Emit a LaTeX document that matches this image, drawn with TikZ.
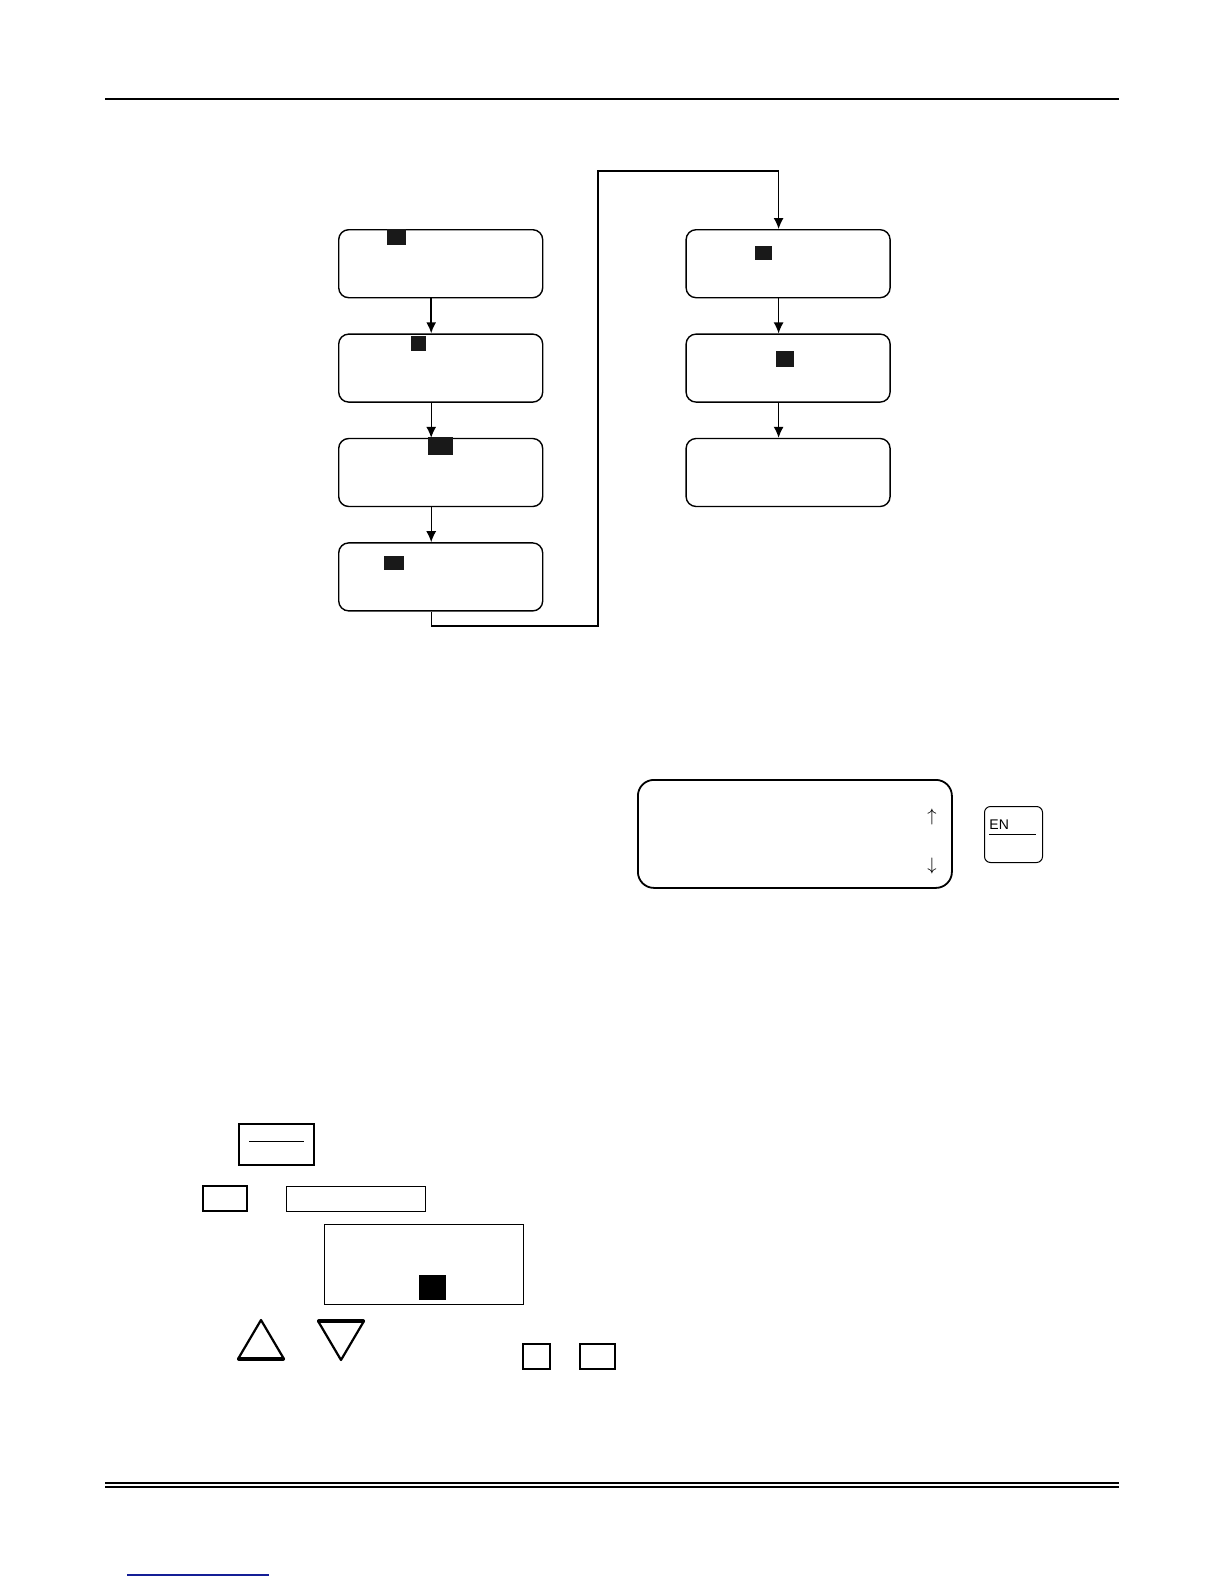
\documentclass[tikz,border=0pt]{standalone}
\usepackage{fontspec}
\setsansfont{Liberation Sans}
\usetikzlibrary{arrows.meta, positioning}

\definecolor{linkblue}{RGB}{20,30,150}

\begin{document}
\begin{tikzpicture}[x=0.5pt, y=-0.5pt, node distance=17.5pt and 71pt, every node/.style={font=\small},
    screen/.style={draw, rounded corners=5pt, line width=0.7pt, minimum width=102pt, minimum height=34pt, inner sep=0pt},
    cursor/.style={fill=black!90, inner sep=0pt},
    key/.style={draw, line width=0.6pt, inner sep=0pt, anchor=north west},
    arr/.style={line width=0.6pt, -{Latex[length=5.5pt, width=5pt]}}]
    \useasboundingbox (0,0) rectangle (1224,1584);
    % page rules
    \draw[line width=1pt] (105,99) -- (1119,99);
    \draw[line width=0.8pt] (105,1483) -- (1119,1483);
    \draw[line width=0.8pt] (105,1487) -- (1119,1487);
    \draw[linkblue, line width=0.6pt] (127,1575) -- (269,1575);

    % menu screens
    \node[screen, anchor=north west] (s1) at (338,229) {};
    \node[screen, below=of s1] (s2) {};
    \node[screen, below=of s2] (s3) {};
    \node[screen, below=of s3] (s4) {};
    \node[screen, right=of s1] (s5) {};
    \node[screen, below=of s5] (s6) {};
    \node[screen, below=of s6] (s7) {};

    \node[cursor, minimum width=9.5pt, minimum height=8pt] (c1) at (396.5,237) {};
    \node[cursor, minimum width=7.5pt, minimum height=7.5pt] (c2) at (418.5,343.5) {};
    \node[cursor, minimum width=12.5pt, minimum height=9pt] (c3) at (440.5,446) {};
    \node[cursor, minimum width=10pt, minimum height=7pt] (c4) at (394,563) {};
    \node[cursor, minimum width=8.5pt, minimum height=7pt] (c5) at (763.5,253) {};
    \node[cursor, minimum width=9pt, minimum height=8pt] (c6) at (785,359) {};

    \coordinate (loopbot) at (598,626);
    \coordinate (looptop) at (598,171);

    \draw[arr, line width=0.9pt] ([xshift=-4.75pt]s1.south) -- ([xshift=-4.75pt]s2.north);
    \draw[arr] ([xshift=-4.75pt]s2.south) -- ([xshift=-4.75pt]s3.north);
    \draw[arr] ([xshift=-4.75pt]s3.south) -- ([xshift=-4.75pt]s4.north);
    \draw[arr] ([xshift=-4.75pt]s4.south) |- (loopbot) -- (looptop) -| ([xshift=-4.75pt]s5.north);
    \draw[arr] ([xshift=-4.75pt]s5.south) -- ([xshift=-4.75pt]s6.north);
    \draw[arr] ([xshift=-4.75pt]s6.south) -- ([xshift=-4.75pt]s7.north);

    % display and enter key
    \node[draw, rounded corners=8pt, line width=0.9pt, minimum width=157pt, minimum height=54pt, anchor=north west] (disp) at (637,779) {};
    \node (scrup) at (932,817) {$\uparrow$};
    \node (scrdn) at (932,866) {$\downarrow$};
    \node[draw, rounded corners=3pt, line width=0.5pt, minimum width=29pt, minimum height=28pt, anchor=north west] (enkey) at (984,806) {};
    \node[anchor=base west, inner sep=0pt, font=\sffamily\fontsize{7}{8}\selectfont] (entxt) at (989,829) {EN};
    \draw[line width=0.5pt] (989,834) -- (1036,834);

    % keys and field boxes
    \node[key, line width=1pt, minimum width=37.5pt, minimum height=20.5pt] (keya) at (238,1123) {};
    \draw[line width=0.5pt] (249,1141) -- (304,1141);
    \node[key, line width=0.8pt, minimum width=22pt, minimum height=12.5pt] (keyb) at (202,1185) {};
    \node[key, minimum width=69.5pt, minimum height=12.5pt] (field) at (286,1186) {};
    \node[key, minimum width=99.5pt, minimum height=40pt] (edit) at (324,1224) {};
    \node[cursor, fill=black, minimum width=13.5pt, minimum height=12.5pt] (c7) at (432.5,1287.5) {};
    \node[key, line width=0.8pt, minimum width=13.5pt, minimum height=12.5pt] (keye) at (522,1343) {};
    \node[key, line width=0.8pt, minimum width=17.5pt, minimum height=12.5pt] (keyf) at (579,1343) {};

    % up and down keys
    \draw[line width=1.1pt, line join=round] (238,1359) -- (261,1320) -- (284,1359) -- cycle;
    \draw[line width=2pt, line cap=round] (239,1359) -- (283,1359);
    \draw[line width=1.1pt, line join=round] (318,1321) -- (364,1321) -- (341,1360) -- cycle;
    \draw[line width=2pt, line cap=round] (319,1321) -- (363,1321);
\end{tikzpicture}
\end{document}
